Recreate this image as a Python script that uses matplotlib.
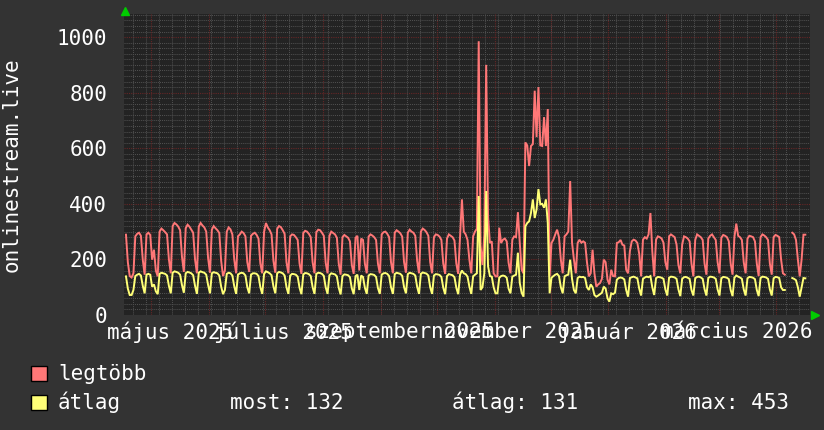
import numpy as np
import pandas as pd
import matplotlib
matplotlib.use('Agg')
import matplotlib.pyplot as plt
from matplotlib.patches import Rectangle

nan = np.nan

# ---------------- data ----------------
start_date = '2025-04-17'   # first daily sample (Thursday)

# "legtöbb" (maximum) daily values
legtobb = [
    289, 190, 140, 135,
    150, 283, 292, 296, 285, 199, 145,
    290, 296, 288, 199, 235, 160, 139,
    300, 311, 305, 298, 290, 200, 150,
    320, 331, 326, 318, 305, 210, 155,
    312, 325, 318, 307, 296, 200, 150,
    318, 331, 322, 315, 300, 205, 152,
    307, 320, 312, 305, 295, 195, 140,
    160, 300, 315, 308, 290, 200, 150,
    283, 290, 300, 295, 283, 190, 155,
    285, 292, 296, 288, 275, 185, 150,
    300, 331, 315, 305, 290, 195, 152,
    310, 320, 316, 305, 292, 190, 150,
    283, 290, 288, 280, 270, 185, 148,
    295, 303, 300, 292, 280, 190, 150,
    298, 307, 305, 296, 285, 188, 150,
    285, 300, 295, 290, 278, 185, 145,
    280, 288, 283, 278, 265, 180, 148,
    278, 285, 160, 275, 270, 185, 150,
    282, 290, 286, 280, 270, 185, 150,
    290, 298, 300, 292, 280, 190, 150,
    296, 305, 300, 294, 282, 190, 152,
    296, 307, 300, 296, 285, 195, 150,
    300, 311, 306, 298, 285, 190, 150,
    280, 290, 288, 282, 270, 185, 148,
    275, 290, 285, 280, 268, 185, 148,
    285, 416, 300, 290, 270, 199, 150,
    283, 300, 310, 985, 250, 180, 290,
    900, 355, 259, 265, 150, 139, 139,
    314, 259, 271, 275, 265, 188, 150,
    271, 283, 280, 370, 259, 163, 150,
    621, 610, 536, 608, 615, 807, 640,
    820, 610, 608, 712, 608, 741, 139,
    259, 271, 290, 307, 280, 199, 150,
    283, 290, 300, 482, 260, 200, 150,
    259, 271, 260, 265, 260, 190, 139,
    150, 235, 150, 102, 110, 115, 130,
    199, 190, 127, 110, 163, 140, 139,
    259, 262, 270, 253, 250, 163, 150,
    230, 265, 271, 268, 259, 220, 139,
    271, 280, 275, 290, 367, 230, 139,
    271, 283, 280, 275, 260, 190, 163,
    283, 290, 285, 280, 253, 180, 150,
    253, 283, 280, 275, 265, 185, 139,
    270, 290, 285, 280, 270, 185, 145,
    275, 285, 290, 280, 270, 190, 150,
    278, 288, 285, 280, 265, 185, 145,
    280, 329, 285, 280, 270, 190, 150,
    275, 285, 283, 280, 265, 185, 140,
    280, 290, 286, 280, 270, 185, 145,
    280, 288, 285, 280, 200, 150, 145,
    nan, 145, nan, 296, 290, 270, 200,
    139, 200, 289, 289,
]

# "átlag" (average) daily values
atlag = [
    139, 95, 72, 72,
    90, 140, 145, 148, 142, 105, 78,
    145, 148, 145, 102, 110, 85, 75,
    148, 152, 150, 148, 142, 105, 78,
    152, 157, 155, 152, 145, 108, 80,
    150, 155, 153, 150, 143, 105, 76,
    152, 157, 154, 152, 145, 108, 78,
    150, 154, 152, 150, 142, 102, 75,
    90, 148, 152, 150, 142, 104, 76,
    145, 150, 152, 150, 142, 100, 78,
    145, 150, 150, 148, 140, 100, 76,
    148, 157, 154, 150, 143, 103, 78,
    150, 155, 153, 150, 142, 100, 76,
    142, 148, 147, 145, 138, 98, 75,
    146, 151, 150, 147, 140, 100, 76,
    148, 152, 151, 148, 141, 100, 76,
    143, 150, 148, 146, 139, 98, 74,
    140, 146, 145, 143, 136, 96, 75,
    140, 145, 90, 142, 137, 98, 76,
    142, 147, 146, 144, 137, 97, 76,
    145, 150, 151, 148, 140, 100, 76,
    147, 152, 150, 148, 141, 100, 78,
    147, 152, 150, 148, 142, 102, 76,
    148, 153, 151, 149, 142, 100, 76,
    142, 147, 146, 144, 137, 98, 75,
    140, 147, 145, 143, 136, 98, 75,
    145, 160, 150, 147, 138, 102, 76,
    139, 145, 150, 428, 90, 100, 150,
    446, 175, 140, 138, 100, 78, 78,
    134, 140, 142, 140, 134, 95, 78,
    138, 142, 145, 224, 115, 80, 66,
    319, 331, 337, 367, 416, 349, 380,
    453, 398, 400, 386, 416, 331, 78,
    134, 140, 145, 148, 140, 100, 78,
    139, 143, 145, 199, 130, 90, 78,
    133, 138, 136, 137, 133, 100, 90,
    110, 100, 72, 66, 70, 75, 80,
    102, 95, 60, 48, 78, 75, 80,
    127, 133, 135, 133, 128, 90, 66,
    133, 136, 138, 135, 132, 95, 70,
    130, 135, 138, 136, 140, 100, 72,
    132, 137, 136, 134, 130, 92, 70,
    134, 138, 137, 135, 130, 92, 68,
    130, 136, 137, 134, 130, 90, 70,
    132, 137, 138, 135, 130, 93, 70,
    133, 138, 137, 135, 130, 92, 70,
    132, 137, 136, 134, 129, 90, 68,
    134, 142, 138, 135, 130, 92, 70,
    132, 137, 136, 134, 129, 90, 68,
    133, 138, 137, 135, 130, 92, 70,
    132, 137, 136, 133, 100, 90, 90,
    nan, 72, nan, 133, 130, 125, 100,
    66, 100, 133, 132,
]

y_ticks = [0, 200, 400, 600, 800, 1000]
label_months = ['2025-05-01', '2025-07-01', '2025-09-01', '2025-11-01', '2026-01-01', '2026-03-01']
x_labels = ['május 2025', 'július 2025', 'szeptember 2025', 'november 2025', 'január 2026', 'március 2026']
series_names = ['legtöbb', 'átlag']
stat_labels = ['most: 132', 'átlag: 131', 'max: 453']
y_title = 'onlinestream.live'

# ---------------- style ----------------
W, H = 824, 430
BG = '#333333'
CANVAS = '#232323'
RED = '#FF7777'
YEL = '#FFFF77'
FONT = 'DejaVu Sans Mono'
FS = 15

fig = plt.figure(figsize=(W / 100, H / 100), dpi=100, facecolor=BG)
L, R, T, B = 124.5, 810, 14, 315
ax = fig.add_axes([L / W, 1 - B / H, (R - L) / W, (B - T) / H])
ax.set_facecolor(CANVAS)
for s in ax.spines.values():
    s.set_visible(False)

dates = pd.date_range(start_date + ' 12:00', periods=len(legtobb), freq='D')
x0 = pd.Timestamp('2025-04-16 17:00')
x1 = pd.Timestamp('2026-04-19 00:00')
ax.set_xlim(x0, x1)
ax.set_ylim(0, 1083)

# grid
dot = (0, (1, 1))
MAJ = '#642626'
MIN = '#4f4f4f'
for v in range(20, 1083, 20):
    if v % 200 == 0:
        ax.axhline(v, color=MAJ, lw=0.8, ls=dot, zorder=1)
    else:
        ax.axhline(v, color=MIN, lw=0.75, ls=dot, zorder=1)
for d in pd.date_range('2025-04-21', x1, freq='W-MON'):
    ax.axvline(d, color=MIN, lw=0.75, ls=dot, zorder=1)
for d in pd.date_range('2025-05-01', x1, freq='MS'):
    ax.axvline(d, color=MAJ, lw=0.8, ls=dot, zorder=1)

ax.plot(dates, legtobb, color=RED, lw=1.4, zorder=3, solid_joinstyle='miter')
ax.plot(dates, atlag, color=YEL, lw=1.4, zorder=4, solid_joinstyle='miter')

# ticks
ax.set_yticks(y_ticks)
ax.set_yticklabels([str(v) for v in y_ticks])
label_pos = [pd.Timestamp(m) + pd.Timedelta(days=10) for m in label_months]
ax.set_xticks(label_pos)
ax.set_xticklabels(x_labels)
ax.tick_params(axis='y', length=0, pad=12.5, labelsize=FS, labelcolor='white')
ax.tick_params(axis='x', length=0, pad=5, labelsize=FS, labelcolor='white')
for lab in ax.get_xticklabels() + ax.get_yticklabels():
    lab.set_family(FONT)

# green arrows
fig.lines.append(plt.Line2D([125 / W], [1 - 10.5 / H], marker='^', markersize=5.5,
                            color='#00CC00', transform=fig.transFigure, lw=0))
fig.lines.append(plt.Line2D([815 / W], [1 - 315 / H], marker='>', markersize=5.5,
                            color='#00CC00', transform=fig.transFigure, lw=0))

# y title
fig.text(12 / W, 1 - 164.5 / H, y_title, rotation=90, ha='center', va='center',
         color='white', fontsize=FS, family=FONT)

# legend
rows = [380, 409]
for name, col, yb in zip(series_names, [RED, YEL], rows):
    fig.patches.append(Rectangle((31.5 / W, 1 - (yb + 1) / H), 15.5 / W, 15.5 / H,
                                 transform=fig.transFigure, facecolor=col,
                                 edgecolor='black', lw=1))
    fig.text(58 / W, 1 - yb / H, name, ha='left', va='baseline', color='white',
             fontsize=FS, family=FONT)
for txt, xp in zip(stat_labels, [229.5, 452, 688.5]):
    fig.text(xp / W, 1 - rows[1] / H, txt, ha='left', va='baseline', color='white',
             fontsize=FS, family=FONT)

fig.savefig('out.png', dpi=100, facecolor=BG)
